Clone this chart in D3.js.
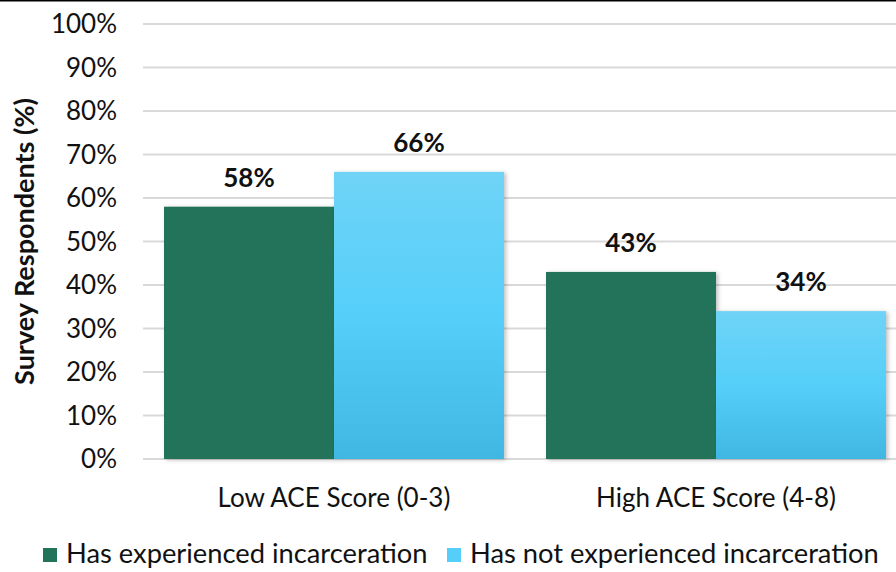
<!DOCTYPE html>
<html>
<head>
<meta charset="utf-8">
<script src="https://cdn.jsdelivr.net/npm/d3@7"></script>
<style>
  body { margin: 0; background: #fff; }
  svg { display: block; font-family: Lato, "Open Sans", sans-serif; }
</style>
</head>
<body>
<div id="chart"></div>
<script>
// chart data
const categories = ["Low ACE Score (0-3)", "High ACE Score (4-8)"];
const seriesNames = ["Has experienced incarceration", "Has not experienced incarceration"];
const experiencedValues = [58, 43];
const notExperiencedValues = [66, 34];
const yTicks = [0, 10, 20, 30, 40, 50, 60, 70, 80, 90, 100];

const width = 896, height = 572;
// plot area runs a little past the right edge, like the cropped original
const margin = { top: 24, right: -11, bottom: 113, left: 143 };

const svg = d3.select("#chart").append("svg")
    .attr("width", width)
    .attr("height", height);

// gradient for the light blue bars
const defs = svg.append("defs");
const grad = defs.append("linearGradient")
    .attr("id", "blueGrad")
    .attr("x1", 0).attr("y1", 0).attr("x2", 0).attr("y2", 1);
grad.append("stop").attr("offset", "0%").attr("stop-color", "#6fd3f6");
grad.append("stop").attr("offset", "50%").attr("stop-color", "#55cffa");
grad.append("stop").attr("offset", "100%").attr("stop-color", "#40b7e2");

const shadow = defs.append("filter").attr("id", "shadow")
    .attr("x", "-10%").attr("y", "-10%").attr("width", "130%").attr("height", "130%");
shadow.append("feDropShadow")
    .attr("dx", 2).attr("dy", 1).attr("stdDeviation", 2)
    .attr("flood-color", "#000").attr("flood-opacity", 0.25);

// top border line
svg.append("line")
    .attr("x1", 0).attr("x2", width)
    .attr("y1", 0.5).attr("y2", 0.5)
    .attr("stroke", "#000").attr("stroke-width", 2);

const x0 = d3.scaleBand()
    .domain(categories)
    .range([margin.left, width - margin.right])
    .paddingInner(0.11)
    .paddingOuter(0.055);

const x1 = d3.scaleBand()
    .domain(seriesNames)
    .range([0, x0.bandwidth()]);

const y = d3.scaleLinear()
    .domain([0, 100])
    .range([height - margin.bottom, margin.top]);

// grid lines
svg.append("g")
    .selectAll("line")
    .data(yTicks)
    .join("line")
    .attr("x1", margin.left)
    .attr("x2", width - margin.right)
    .attr("y1", d => y(d))
    .attr("y2", d => y(d))
    .attr("stroke", "#d9d9d9")
    .attr("stroke-width", 2);

// y tick labels
svg.append("g")
    .selectAll("text")
    .data(yTicks)
    .join("text")
    .attr("x", 117)
    .attr("y", d => y(d))
    .attr("dy", "0.35em")
    .attr("text-anchor", "end")
    .attr("fill", "#111")
    .style("font-size", "26px")
    .text(d => d + "%");

// y axis title
svg.append("text")
    .attr("transform", `translate(34,${y(50)}) rotate(-90)`)
    .attr("text-anchor", "middle")
    .attr("fill", "#111")
    .style("font-size", "27px")
    .style("font-weight", "bold")
    .text("Survey Respondents (%)");

const rows = categories.map((c, i) => ({
    category: c,
    values: [
        { series: seriesNames[0], value: experiencedValues[i] },
        { series: seriesNames[1], value: notExperiencedValues[i] }
    ]
}));

const colors = { [seriesNames[0]]: "#23735a", [seriesNames[1]]: "url(#blueGrad)" };

const groups = svg.append("g")
    .selectAll("g")
    .data(rows)
    .join("g")
    .attr("transform", d => `translate(${x0(d.category)},0)`);

groups.selectAll("rect")
    .data(d => d.values)
    .join("rect")
    .attr("x", d => x1(d.series))
    .attr("y", d => y(d.value))
    .attr("width", x1.bandwidth())
    .attr("height", d => y(0) - y(d.value))
    .attr("fill", d => colors[d.series])
    .attr("filter", "url(#shadow)");

// value labels
groups.selectAll("text.value")
    .data(d => d.values)
    .join("text")
    .attr("class", "value")
    .attr("x", d => x1(d.series) + x1.bandwidth() / 2)
    .attr("y", d => y(d.value) - 20)
    .attr("text-anchor", "middle")
    .attr("fill", "#111")
    .style("font-size", "26px")
    .style("font-weight", "bold")
    .text(d => d.value + "%");

// category labels
svg.append("g")
    .selectAll("text")
    .data(categories)
    .join("text")
    .attr("x", d => x0(d) + x0.bandwidth() / 2)
    .attr("y", 507)
    .attr("text-anchor", "middle")
    .attr("fill", "#111")
    .style("font-size", "26px")
    .text(d => d);

// legend
const legendX = [43, 447];
const legend = svg.append("g")
    .selectAll("g")
    .data(seriesNames)
    .join("g")
    .attr("transform", (d, i) => `translate(${legendX[i]},548)`);

legend.append("rect")
    .attr("width", 14)
    .attr("height", 14)
    .attr("fill", (d, i) => i === 0 ? "#23735a" : "#55cffa");

legend.append("text")
    .attr("x", 23)
    .attr("y", 15)
    .attr("fill", "#111")
    .style("font-size", "27.3px")
    .text(d => d);
</script>
</body>
</html>
